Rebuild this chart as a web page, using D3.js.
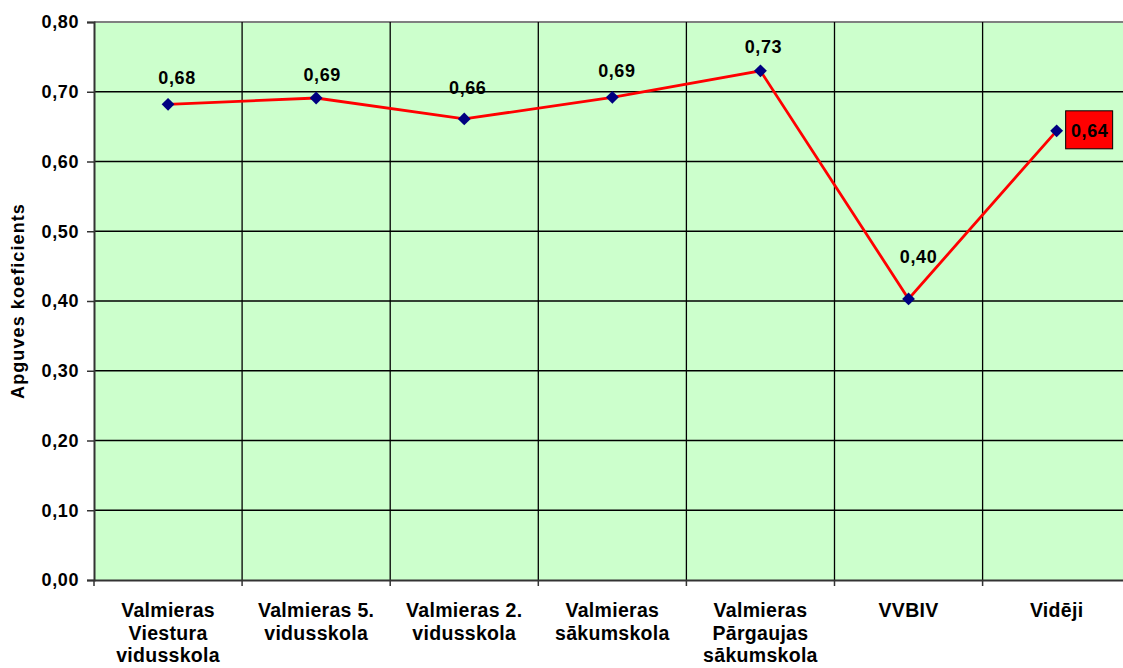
<!DOCTYPE html>
<html>
<head>
<meta charset="utf-8">
<script src="https://cdn.jsdelivr.net/npm/d3@7"></script>
<style>
  body { margin: 0; background: #fff; }
  text { font-family: "Liberation Sans", Arial, sans-serif; font-weight: bold; fill: #000; }
</style>
</head>
<body>
<script>
// dati no attēla
const categories = [
  'Valmieras\nViestura\nvidusskola',
  'Valmieras 5.\nvidusskola',
  'Valmieras 2.\nvidusskola',
  'Valmieras\nsākumskola',
  'Valmieras\nPārgaujas\nsākumskola',
  'VVBIV',
  'Vidēji'
]
const values = [0.682, 0.691, 0.661, 0.692, 0.730, 0.403, 0.644]
const yTicks = [0, 0.1, 0.2, 0.3, 0.4, 0.5, 0.6, 0.7, 0.8]
const yTitle = 'Apguves koeficients'

// etiķešu nobīdes (px) – izkārtojums, ne dati
const labelDx = [9, 6, 3.5, 4.5, 3, 10]
const labelDy = [20, 17, 25, 20, 18, 36]

const W = 1123, H = 668
const MARGIN = {top: 22, left: 94, bottom: 88}
const BAND = 148.1
const plotRight = MARGIN.left + BAND * categories.length
const plotBottom = H - MARGIN.bottom

const fmt = d => d.toFixed(2).replace('.', ',')

const SVG = d3.select('body').append('svg')
  .attr('width', W)
  .attr('height', H)

const x = d3.scaleBand()
  .domain(categories)
  .range([MARGIN.left, plotRight])

const y = d3.scaleLinear()
  .domain([0, 0.8])
  .range([plotBottom, MARGIN.top])

// fons
SVG.append('rect')
  .attr('x', MARGIN.left)
  .attr('y', MARGIN.top)
  .attr('width', plotRight - MARGIN.left)
  .attr('height', plotBottom - MARGIN.top)
  .attr('fill', '#ccffcc')

// horizontālās līnijas
SVG.append('g')
  .selectAll('line')
  .data(yTicks.filter(d => d > 0))
  .join('line')
    .attr('x1', MARGIN.left)
    .attr('x2', plotRight)
    .attr('y1', d => y(d))
    .attr('y2', d => y(d))
    .attr('stroke', d => d === 0.8 ? '#808080' : '#000')
    .attr('stroke-width', d => d === 0.8 ? 2 : 1.3)

// vertikālās līnijas
SVG.append('g')
  .selectAll('line')
  .data(categories.slice(1))
  .join('line')
    .attr('x1', d => x(d))
    .attr('x2', d => x(d))
    .attr('y1', MARGIN.top)
    .attr('y2', plotBottom)
    .attr('stroke', '#000')
    .attr('stroke-width', 1.3)

// Y ass
const yAxis = SVG.append('g')
  .attr('transform', `translate(${MARGIN.left}, 0)`)
  .call(d3.axisLeft(y).tickValues(yTicks).tickFormat(fmt).tickSize(7).tickPadding(8))
yAxis.select('.domain').attr('stroke', '#333').attr('stroke-width', 2)
yAxis.selectAll('.tick line').attr('stroke', '#333').attr('stroke-width', 1.5)
yAxis.selectAll('text')
  .style('font-size', '18px')
  .style('letter-spacing', '0.6px')
  .attr('fill', '#000')

// X ass
const xAxis = SVG.append('g')
  .attr('transform', `translate(0, ${plotBottom})`)
  .call(d3.axisBottom(x).tickSize(0).tickFormat(''))
xAxis.select('.domain').attr('stroke', '#333').attr('stroke-width', 2)
xAxis.selectAll('.tick').remove()

SVG.append('g')
  .selectAll('line')
  .data(categories)
  .join('line')
    .attr('x1', d => x(d))
    .attr('x2', d => x(d))
    .attr('y1', plotBottom)
    .attr('y2', plotBottom + 6)
    .attr('stroke', '#333')
    .attr('stroke-width', 1.5)

const catLabels = SVG.append('g')
  .selectAll('text')
  .data(categories)
  .join('text')
    .attr('text-anchor', 'middle')
    .style('font-size', '19.5px')
    .style('letter-spacing', '0.3px')

catLabels.selectAll('tspan')
  .data(d => d.split('\n').map(line => ({line, c: d})))
  .join('tspan')
    .attr('x', d => x(d.c) + x.bandwidth() / 2)
    .attr('y', (d, i) => plotBottom + 37 + i * 22.7)
    .text(d => d.line)

// Y ass nosaukums
SVG.append('text')
  .attr('transform', `translate(24, ${(MARGIN.top + plotBottom) / 2}) rotate(-90)`)
  .attr('text-anchor', 'middle')
  .style('font-size', '18px')
  .style('letter-spacing', '1.1px')
  .text(yTitle)

// līnija
const cx = d => x(d) + x.bandwidth() / 2
SVG.append('path')
  .datum(categories)
  .attr('fill', 'none')
  .attr('stroke', '#ff0000')
  .attr('stroke-width', 2.8)
  .attr('d', d3.line().x(d => cx(d)).y((d, i) => y(values[i])))

// marķieri
SVG.append('g')
  .selectAll('path')
  .data(categories)
  .join('path')
    .attr('transform', (d, i) => `translate(${cx(d)}, ${y(values[i])})`)
    .attr('d', d3.symbol(d3.symbolDiamond2, 105))
    .attr('fill', '#000080')

// datu etiķetes
const last = categories.length - 1
SVG.append('g')
  .selectAll('text')
  .data(categories.slice(0, last))
  .join('text')
    .attr('x', (d, i) => cx(d) + labelDx[i])
    .attr('y', (d, i) => y(values[i]) - labelDy[i])
    .attr('text-anchor', 'middle')
    .style('font-size', '18px')
    .style('letter-spacing', '0.6px')
    .text((d, i) => fmt(values[i]))

// pēdējā etiķete sarkanā rāmī
const lastX = cx(categories[last]), lastY = y(values[last])
SVG.append('rect')
  .attr('x', lastX + 9)
  .attr('y', lastY - 20)
  .attr('width', 47)
  .attr('height', 38)
  .attr('fill', '#ff0000')
  .attr('stroke', '#000')
  .attr('stroke-width', 1)
SVG.append('text')
  .attr('x', lastX + 33)
  .attr('y', lastY + 6)
  .attr('text-anchor', 'middle')
  .style('font-size', '18px')
  .style('letter-spacing', '0.6px')
  .text(fmt(values[last]))
</script>
</body>
</html>
